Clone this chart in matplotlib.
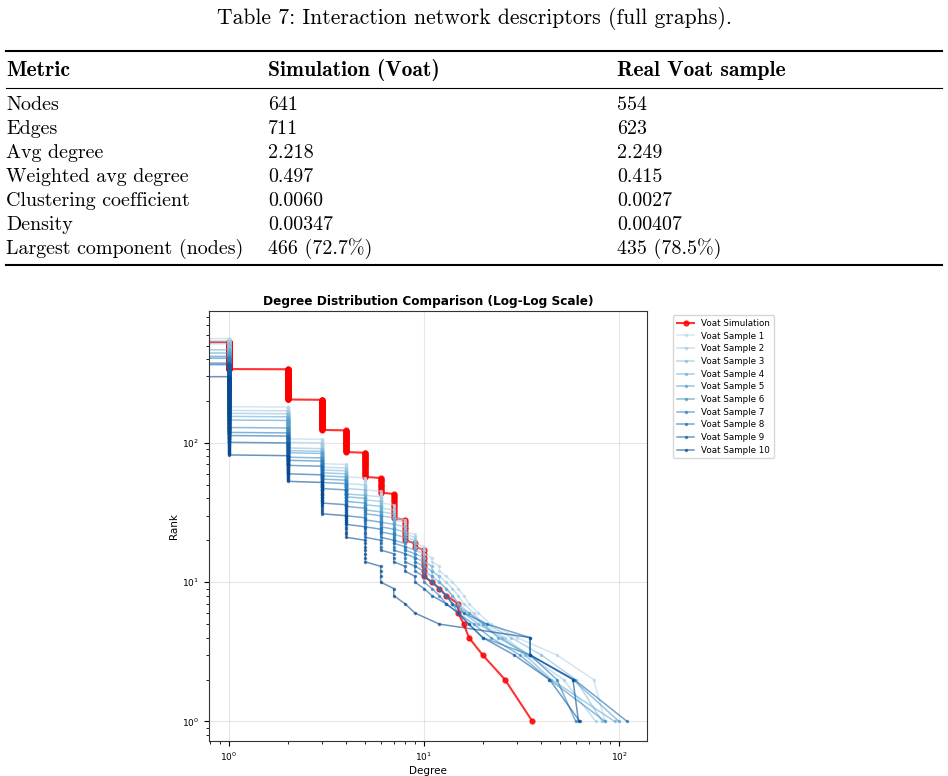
import numpy as np
import matplotlib
matplotlib.use("Agg")
import matplotlib.pyplot as plt
from matplotlib.lines import Line2D

# Tabla de descriptores
caption = "Table 7: Interaction network descriptors (full graphs)."
col_headers = ["Metric", "Simulation (Voat)", "Real Voat sample"]
metrics = ["Nodes", "Edges", "Avg degree", "Weighted avg degree",
           "Clustering coefficient", "Density", "Largest component (nodes)"]
sim_values = ["641", "711", "2.218", "0.497", "0.0060", "0.00347", "466 (72.7%)"]
real_values = ["554", "623", "2.249", "0.415", "0.0027", "0.00407", "435 (78.5%)"]

# Distribucion de grados: nodos por grado 0..10 y grados altos (simulacion)
sim_counts = [110, 193, 134, 81, 38, 29, 13, 15, 9, 2, 7]
sim_top = [36, 26, 20, 17, 16, 15, 15, 13, 12, 11]

# Muestras reales: nodos por grado 0..9 y grados >= 10
sample_counts = [
    [30, 380, 75, 36, 14, 11, 9, 8, 6, 4],
    [25, 367, 70, 34, 16, 9, 8, 6, 6, 4],
    [38, 354, 71, 28, 17, 8, 7, 6, 5, 4],
    [88, 312, 67, 27, 18, 7, 6, 6, 4, 4],
    [112, 297, 61, 27, 17, 8, 6, 5, 4, 3],
    [136, 290, 50, 24, 17, 7, 6, 5, 3, 3],
    [148, 288, 44, 23, 17, 7, 5, 4, 3, 3],
    [180, 262, 44, 22, 17, 5, 4, 4, 3, 2],
    [189, 265, 41, 23, 11, 5, 4, 3, 2, 2],
    [255, 218, 29, 22, 10, 7, 4, 2, 1, 1],
]
sample_top = [
    [85, 74, 48, 30, 22, 19, 17, 16, 15, 14, 13, 12, 12, 11, 11, 10, 10, 10],
    [76, 52, 34, 26, 20, 18, 16, 15, 14, 13, 12, 11, 11, 10, 10, 10, 10],
    [82, 60, 40, 28, 21, 17, 15, 14, 13, 12, 12, 11, 11, 10, 10, 10],
    [95, 45, 33, 25, 19, 16, 15, 14, 13, 12, 11, 11, 10, 10, 10],
    [100, 58, 35, 24, 20, 17, 14, 13, 12, 11, 11, 10, 10, 10],
    [85, 44, 31, 22, 18, 15, 14, 13, 12, 11, 10, 10, 10],
    [60, 48, 35, 20, 17, 15, 13, 12, 11, 10, 10, 10],
    [110, 59, 35, 35, 21, 16, 14, 13, 12, 11, 10],
    [63, 44, 29, 20, 17, 15, 13, 11, 10],
    [62, 58, 35, 35, 12],
]


def rank_curve(counts, top):
    deg = np.concatenate([np.repeat(np.arange(len(counts)), counts), top])
    deg = np.sort(deg)[::-1]
    return deg, np.arange(1, len(deg) + 1)


fig = plt.figure(figsize=(9.48, 7.76), dpi=100)
W, H = 948, 776


def fy(py):
    return 1 - py / H


# --- tabla ---
fig.text(474 / W, fy(24), caption, family="cmr10", fontsize=15.6,
         ha="center", va="baseline")
for y, lw in [(51, 1.5), (88, 0.8), (265, 1.5)]:
    fig.add_artist(Line2D([6 / W, 942 / W], [fy(y), fy(y)], color="black", lw=lw))

col_x = [6, 268, 617]
for x, h in zip(col_x, col_headers):
    fig.text(x / W, fy(76), h, family="cmb10", fontsize=15.5, va="baseline")
for i in range(len(metrics)):
    yb = 110 + 24 * i
    for x, t in zip(col_x, [metrics[i], sim_values[i], real_values[i]]):
        fig.text(x / W, fy(yb), t, family="cmr10", fontsize=14.4, va="baseline")

# --- grafica ---
ax = fig.add_axes([209 / W, 1 - 741 / H, 438 / W, 430 / H])

d, r = rank_curve(sim_counts, sim_top)
ax.loglog(d, r, "-o", color="red", lw=1.5, markersize=3.5, alpha=0.8,
          label="Voat Simulation")

colors = plt.cm.Blues(np.linspace(0.3, 0.9, len(sample_counts)))
for i, (c, t) in enumerate(zip(sample_counts, sample_top)):
    d, r = rank_curve(c, t)
    ax.loglog(d, r, "-o", color=colors[i], lw=1.1, markersize=1.5, alpha=0.6,
              label=f"Voat Sample {i + 1}")

ax.set_title("Degree Distribution Comparison (Log-Log Scale)", fontsize=8.7,
             fontweight="bold", pad=4)
ax.set_xlabel("Degree", fontsize=7.5, labelpad=2)
ax.set_ylabel("Rank", fontsize=7.5, labelpad=2)
ax.tick_params(labelsize=6.5)
ax.grid(True, alpha=0.3)
for s in ax.spines.values():
    s.set_color("#333333")
ax.legend(bbox_to_anchor=(1.05, 1), loc="upper left", fontsize=6.3,
          labelspacing=0.42)

fig.savefig("out.png", dpi=100)
